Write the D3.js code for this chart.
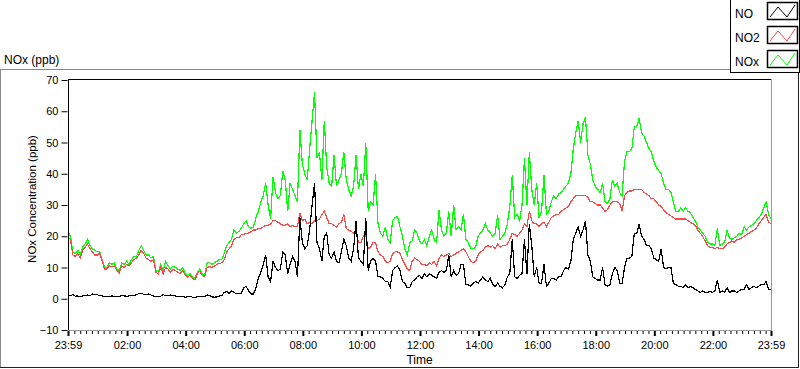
<!DOCTYPE html>
<html>
<head>
<meta charset="utf-8">
<script src="https://cdn.jsdelivr.net/npm/d3@7"></script>
<style>
  body { margin: 0; background: #fff; }
  svg text { font-family: "Liberation Sans", Arial, sans-serif; fill: #000; }
</style>
</head>
<body>
<div id="chart"></div>
<script>
// readings every 5 minutes, starting at 23:59
const noValues = [
  1.2,1,1.3,0.8,0.9,0.7,0.9,1,1.2,1,1.5,1.3,
  1.3,1,0.9,0.7,0.6,0.8,0.9,0.8,0.6,0.7,1,0.9,
  0.8,0.9,1,1.1,1.3,1.6,1.8,1.4,1.2,1.5,1.2,0.9,
  0.7,0.6,0.8,1.3,1,0.9,1.2,1,0.9,0.7,0.6,0.7,
  0.5,0.6,0.8,0.5,0.4,0.6,0.8,0.6,0.7,1.2,1,0.6,
  0.5,0.6,0.9,1,2,2.3,1.7,2.5,2,1.6,1.8,1.8,
  3.5,4,2.5,1.5,1.5,3.5,6.5,8.5,11,14,7,5.5,
  12,10,9,9.5,15,14,8,11,13.5,12,7,26,
  18,16,17,22,30,37,18,16,12,20,21,14,
  13,15,12,11.5,15,19,17,13,12,16,25,13,
  12,11,25.7,9,12,13,12,7,7,6.5,5.5,5.5,
  3.8,9,10,10.5,9,5.5,5,3.5,3.5,5.5,6,7,
  7.5,6.5,8,7,8,7.5,7,6.5,8.5,9,8.5,9,
  14,7,9,7.5,8,11,11,4.5,4.5,4,5,5.5,
  5,6,7,6,5.5,6.5,4.5,4,5,4,3.5,4.5,
  7,8,19,7,6.5,7.5,8,19,8,24,17,7,
  10,5,5,11,4,5,6.5,6.5,6,7,7,9,
  10,9.5,12,19,21,23,20,22,25,14,12,7,
  6.5,6,6,10,4.5,4,4.5,8,10,9,5,5,
  10,13,13,13.5,21,21,23.9,20,19,17,17,16,
  13,12.5,12,16,10,9.5,10,10,5,4.5,4,4,
  3.5,4.5,3.5,4,3.5,3,2.5,2,2.5,2,2,2.5,
  2,2.5,6,2,2.5,2,3.5,2,2.5,2.5,2,2.5,
  3,3,4.5,3,3.5,4,3.5,4,4.5,4.5,5.5,3,3
];

const no2Values = [
  19.5,19,14,13.5,14.5,13,15.5,16.5,17.5,16,15,14,
  14,14.5,12,9.5,9.5,10.5,10.3,10.5,9,8.3,10.5,10,
  11,10.5,11.5,12.5,13,14,15.5,14.5,13,12.5,12,12.5,
  8.5,8,10,8,10,9.5,8.5,9.5,9,8.5,8,9,
  7.5,7,7.5,6.5,6,8,8.8,7.5,7,10,10.3,10,
  10.5,11,11.3,11.5,12.5,15,16,17,19,19.5,19.5,20.5,
  20.5,21,21,21.5,22,22,22.5,22.5,23,23.5,23.5,24,
  25,25,24.5,24,23.5,23.5,24,23,23.5,23,23,27.5,
  25,25.5,24,24.5,24,25,25,25.5,27,28,26,24,
  24,23.5,23,24,24.5,27,22.5,22,21.5,21,21,18,
  18,20,20.5,16,16.5,18,18,15,14,13.5,12,11.5,
  12,14.5,15,15,14.5,12.5,11,9.5,9,12,13,12.5,
  12,11,11,10.5,11.5,11,12,10.5,13,14,13.5,14,
  14.5,13.5,14,14.5,15,15.5,16,15,13.5,12,11.5,12,
  14,15,15.5,16.5,17,16.5,17,16,17.5,16.5,17,17,
  17.5,19,21,20.5,20,21,22,24,23,28,25,24,
  24,23,24,24.5,23,24.5,26,26.5,27,27,28,28.5,
  29,29.5,31,32,33,33,33,33,33,32.5,31,31,
  30.5,30,30,29,28,28.5,30,31,31,31,30.5,28,
  33,34,34.5,34.5,35,35,35,35,34,33.5,33,32,
  32,31,30,29.5,28.5,27.5,27,26.5,26,25.5,25.5,25.5,
  25.5,25.5,25,24.5,24,23.5,22,21,20,18.5,17,16.5,
  16.5,16,16.5,16,16,16.5,17.5,18,18.5,18,19,19,
  19.5,20,20.5,21,21.5,22,22.5,24,25,26,27,24.5,24
];

const noxValues = [
  21.5,20,15,14.5,15.5,14,16.5,17.5,19,17,16,15.5,
  15,15,12.5,10,10,11.5,11,11.5,9.5,9,11.5,11,
  12,11,12.5,13.5,13.5,15.5,17,15.5,14,14,13,13.5,
  9,8.5,11,9,12,10.5,9.5,10.5,10,9.5,9,10,
  8,7.5,8,7,6.5,8.5,9.5,8,7.5,11.5,11.5,11,
  11.5,12,12.5,12.5,14.5,17,18,19,22,21,21.5,22.5,
  24,25,23,22.5,23,26,28,31,33,37,30,25.5,
  39,34,32,33,41,38,28,37,35,33,31,54,
  43,40,38,48,57,66,45,47,38,57,42,37,
  36,46,36,38,40,47,38,35,33,36,46,35,
  40,36,49.7,28,31,30,40,24,21,20,23,19,
  18,25,26,26.3,23,20,16,14,18,18.5,22,21,
  18.5,17.5,19,17,20,22,19,18,28.4,22,20,21,
  28,20,30,22,23,22,27,19,18,16,16,16.5,
  20,21,22,24,22,21,20,21,26.8,19,20,21,
  24,29.5,39.6,26,27,25,30,45,30,47,35,30,
  37,26,28,39.6,27,28,31,33,32,33.5,34,35,
  36,37,40,48,53,57,50,56,58,46,43,38,
  36,35,34,37,31,30.5,32,38,36,37,34,33,
  44,47,47,48,55,55,57.8,53,52,50,48,47,
  44,42,41,40,37,35,35,34,31,28,28,29,
  28,29,28,27.5,26,25,23,22,21,20,18,17.5,
  17.5,17,22.5,17,17.5,18,22,19.5,19,19.5,20,21,
  20.5,23,22,23,23.5,24,25,26,27,29,31,27,25.5
];

const stepMinutes = 5;
const seriesNames = ["NO", "NO2", "NOx"];
const seriesColors = ["#000000", "#ff4545", "#00ff00"];
const yTicks = [-10, 0, 10, 20, 30, 40, 50, 60, 70];
const xTickLabels = ["23:59", "02:00", "04:00", "06:00", "08:00", "10:00", "12:00",
  "14:00", "16:00", "18:00", "20:00", "22:00", "23:59"];

class noxChart {
  constructor(parentElement) {
    this.parentElement = parentElement;
    this.initVis();
  }

  initVis() {
    let vis = this;

    vis.width = 800;
    vis.height = 369;
    vis.plot = { left: 68, right: 771, top: 79, bottom: 330 };

    vis.svg = d3
      .select("#" + vis.parentElement)
      .append("svg")
      .attr("width", vis.width)
      .attr("height", vis.height)
      .style("display", "block");

    vis.start = new Date(2020, 0, 1, 23, 59);
    vis.end = d3.timeDay.offset(vis.start, 1);

    vis.x = d3.scaleTime()
      .domain([vis.start, vis.end])
      .range([vis.plot.left, vis.plot.right]);

    vis.y = d3.scaleLinear()
      .domain([-10, 70])
      .range([330, 80]);

    vis.wrangleData();
  }

  wrangleData() {
    let vis = this;

    vis.times = noValues.map((d, i) => d3.timeMinute.offset(vis.start, i * stepMinutes));

    vis.series = [
      { name: seriesNames[2], color: seriesColors[2], values: noxValues },
      { name: seriesNames[1], color: seriesColors[1], values: no2Values },
      { name: seriesNames[0], color: seriesColors[0], values: noValues },
    ];

    let parse = d3.timeParse("%H:%M");
    vis.majorTicks = xTickLabels.map((lab, i) => {
      if (i == 0) return vis.start;
      if (i == xTickLabels.length - 1) return vis.end;
      let p = parse(lab);
      return new Date(2020, 0, 2, p.getHours(), p.getMinutes());
    });

    vis.minorTicks = d3.timeMinute.every(12)
      .range(vis.start, vis.end)
      .filter((d) => d.getMinutes() != 0 || d.getHours() % 2 != 0);

    vis.updateVis();
  }

  updateVis() {
    let vis = this;
    let p = vis.plot;

    // outer panel frame
    vis.svg.append("line")
      .attr("x1", 0.5).attr("x2", 730).attr("y1", 69.5).attr("y2", 69.5)
      .attr("stroke", "#8a8a8a");
    vis.svg.append("line")
      .attr("x1", 0.5).attr("x2", 0.5).attr("y1", 69.5).attr("y2", 367)
      .attr("stroke", "#8a8a8a");
    vis.svg.append("line")
      .attr("x1", 0).attr("x2", 799).attr("y1", 367.5).attr("y2", 367.5)
      .attr("stroke", "#222");
    vis.svg.append("line")
      .attr("x1", 798.5).attr("x2", 798.5).attr("y1", 72).attr("y2", 368)
      .attr("stroke", "#222");

    vis.svg.append("text")
      .attr("x", 4)
      .attr("y", 64)
      .style("font-size", "12px")
      .text("NOx (ppb)");

    // plot area
    vis.svg.append("clipPath").attr("id", "plot-clip")
      .append("rect")
      .attr("x", p.left + 1).attr("y", p.top + 1)
      .attr("width", p.right - p.left - 1).attr("height", p.bottom - p.top - 1);

    let line = d3.line()
      .x((d, i) => vis.x(vis.times[i]))
      .y((d) => vis.y(d));

    vis.svg.append("g")
      .attr("clip-path", "url(#plot-clip)")
      .selectAll("path")
      .data(vis.series)
      .enter()
      .append("path")
      .attr("d", (d) => line(d.values))
      .attr("fill", "none")
      .attr("stroke", (d) => d.color)
      .attr("stroke-width", 1.2)
      .attr("shape-rendering", "crispEdges");

    // plot border: dark top/left, grey bottom/right
    vis.svg.append("line")
      .attr("x1", p.left + 0.5).attr("x2", p.right).attr("y1", p.top + 0.5).attr("y2", p.top + 0.5)
      .attr("stroke", "#000");
    vis.svg.append("line")
      .attr("x1", p.left + 0.5).attr("x2", p.left + 0.5).attr("y1", p.top).attr("y2", p.bottom)
      .attr("stroke", "#000");
    vis.svg.append("line")
      .attr("x1", p.left).attr("x2", p.right + 1).attr("y1", p.bottom + 0.5).attr("y2", p.bottom + 0.5)
      .attr("stroke", "#999");
    vis.svg.append("line")
      .attr("x1", p.right + 0.5).attr("x2", p.right + 0.5).attr("y1", p.top).attr("y2", p.bottom + 1)
      .attr("stroke", "#999");

    // y axis
    let yAxis = d3.axisLeft(vis.y).tickValues(yTicks).tickSize(6).tickPadding(3);
    let yg = vis.svg.append("g")
      .attr("transform", "translate(" + (p.left - 0.5) + ",0)")
      .call(yAxis);
    yg.select(".domain").remove();
    yg.selectAll("line").attr("stroke", "#000");
    yg.selectAll("text")
      .style("font-size", "11px")
      .style("font-family", "\"Liberation Sans\", Arial, sans-serif")
      .attr("fill", "#000");

    vis.svg.append("text")
      .attr("transform", "translate(36," + 199 + ") rotate(-90)")
      .attr("text-anchor", "middle")
      .style("font-size", "11.5px")
      .text("NOx Concentration (ppb)");

    // x axis: minor ticks first, then labelled major ticks
    let minorAxis = d3.axisBottom(vis.x).tickValues(vis.minorTicks).tickSize(3).tickFormat("");
    let mg = vis.svg.append("g")
      .attr("transform", "translate(0," + (p.bottom + 1) + ")")
      .call(minorAxis);
    mg.select(".domain").remove();
    mg.selectAll("line").attr("stroke", "#000");

    let xAxis = d3.axisBottom(vis.x)
      .tickValues(vis.majorTicks)
      .tickSize(5)
      .tickPadding(5)
      .tickFormat((d, i) => xTickLabels[i]);
    let xg = vis.svg.append("g")
      .attr("transform", "translate(0," + (p.bottom + 1) + ")")
      .call(xAxis);
    xg.select(".domain").remove();
    xg.selectAll("line").attr("stroke", "#000").attr("stroke-width", 2);
    xg.selectAll("text")
      .style("font-size", "11px")
      .style("font-family", "\"Liberation Sans\", Arial, sans-serif")
      .attr("fill", "#000");

    vis.svg.append("text")
      .attr("x", (p.left + p.right) / 2)
      .attr("y", 364)
      .attr("text-anchor", "middle")
      .style("font-size", "12px")
      .text("Time");

    // legend
    let legend = vis.svg.append("g");
    legend.append("rect")
      .attr("x", 730.5).attr("y", -1)
      .attr("width", 69).attr("height", 73.5)
      .attr("fill", "#fff")
      .attr("stroke", "#000");

    let items = legend.selectAll(".item")
      .data(seriesNames)
      .enter()
      .append("g")
      .attr("class", "item")
      .attr("transform", (d, i) => "translate(0," + i * 24 + ")");

    items.append("text")
      .attr("x", 735)
      .attr("y", 18)
      .style("font-size", "12px")
      .text((d) => d);

    items.append("rect")
      .attr("x", 767.5).attr("y", 2.5)
      .attr("width", 30).attr("height", 17)
      .attr("fill", "#fff")
      .attr("stroke", "#000")
      .attr("stroke-width", 1.5);

    items.append("path")
      .attr("d", "M770,17 L778,7 L787,17 L795,5")
      .attr("fill", "none")
      .attr("stroke", (d, i) => seriesColors[i])
      .attr("stroke-width", 1);
  }
}

new noxChart("chart");
</script>
</body>
</html>
